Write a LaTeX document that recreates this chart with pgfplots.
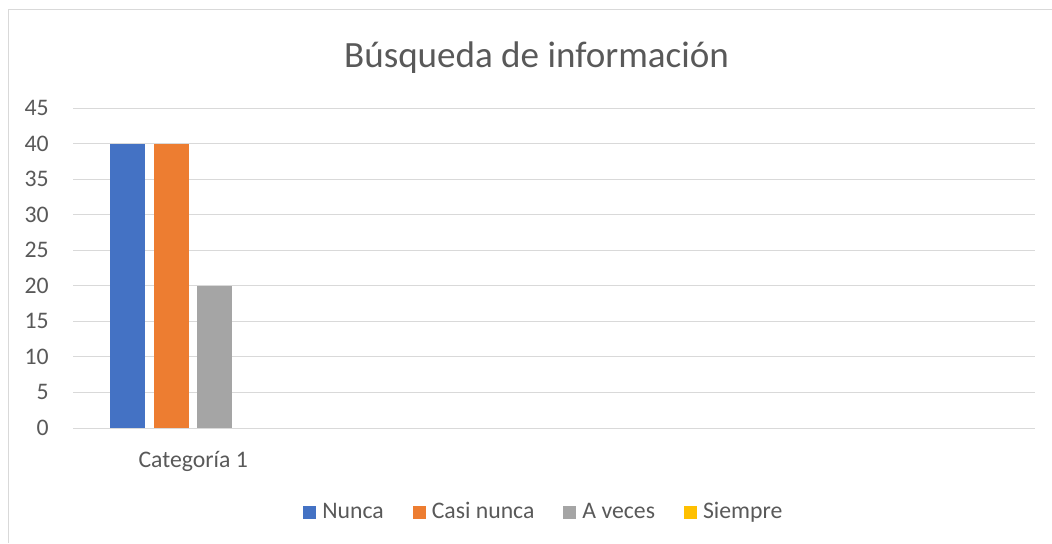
\documentclass[border=0pt]{standalone}
\usepackage{pgfplots}
\pgfplotsset{compat=1.18}
\usepackage{fontspec}
\setmainfont{Carlito}
\definecolor{cblue}{HTML}{4472C4}
\definecolor{corange}{HTML}{ED7D31}
\definecolor{cgray}{HTML}{A5A5A5}
\definecolor{cyellow}{HTML}{FFC000}
\definecolor{gridc}{HTML}{D9D9D9}
\definecolor{textc}{HTML}{595959}
\begin{document}
\begin{tikzpicture}
\path[use as bounding box] (0,0) rectangle (789pt,407.25pt);
\draw[gridc, line width=0.75pt] (6pt,0) -- (6pt,399.75pt) -- (789pt,399.75pt);
\node[anchor=base, text=textc, font=\fontsize{27.8}{33}\selectfont, inner sep=0pt] at (402.4pt,356.25pt) {Búsqueda de información};
\begin{axis}[
  at={(54.75pt,86.25pt)}, anchor=south west,
  scale only axis, width=721.5pt, height=240pt,
  ymin=0, ymax=45, ytick={0,5,...,45},
  xmin=-0.5, xmax=3.5, xtick={0}, xticklabels={Categoría 1},
  ybar, bar width=26.25pt,
  axis line style={draw=none},
  ymajorgrids, grid style={gridc, line width=0.75pt},
  major tick length=0pt, tick style={draw=none},
  /pgf/number format/assume math mode=true,
  ticklabel style={font=\fontsize{17.8}{21}\selectfont, text=textc},
  yticklabel style={anchor=east, inner sep=0pt, xshift=-18pt},
  xticklabel style={anchor=base, inner sep=0pt, yshift=-29.25pt},
  legend columns=4,
  legend style={at={(0.2391,-0.2844)}, anchor=south west, draw=none, fill=none,
    inner xsep=0pt, inner ysep=0pt,
    cells={anchor=base west},
    nodes={inner sep=0pt, text depth=0pt},
    font=\fontsize{17.8}{21}\selectfont, text=textc,
    /tikz/every odd column/.append style={column sep=4.5pt},
    /tikz/every even column/.append style={column sep=21.75pt}},
  legend image code/.code={\fill[#1] (0pt,0pt) rectangle (9.75pt,9.75pt);},
]
\addplot[fill=cblue, draw=none, bar shift=-48.94pt] coordinates {(0,40)};
\addlegendentry{Nunca}
\addplot[fill=corange, draw=none, bar shift=-16.31pt] coordinates {(0,40)};
\addlegendentry{Casi nunca}
\addplot[fill=cgray, draw=none, bar shift=16.31pt] coordinates {(0,20)};
\addlegendentry{A veces}
\addplot[fill=cyellow, draw=none, fill opacity=0, bar shift=48.94pt, forget plot] coordinates {(0,0)};
\addlegendimage{fill=cyellow, draw=none}
\addlegendentry{Siempre}
\end{axis}
\end{tikzpicture}
\end{document}
